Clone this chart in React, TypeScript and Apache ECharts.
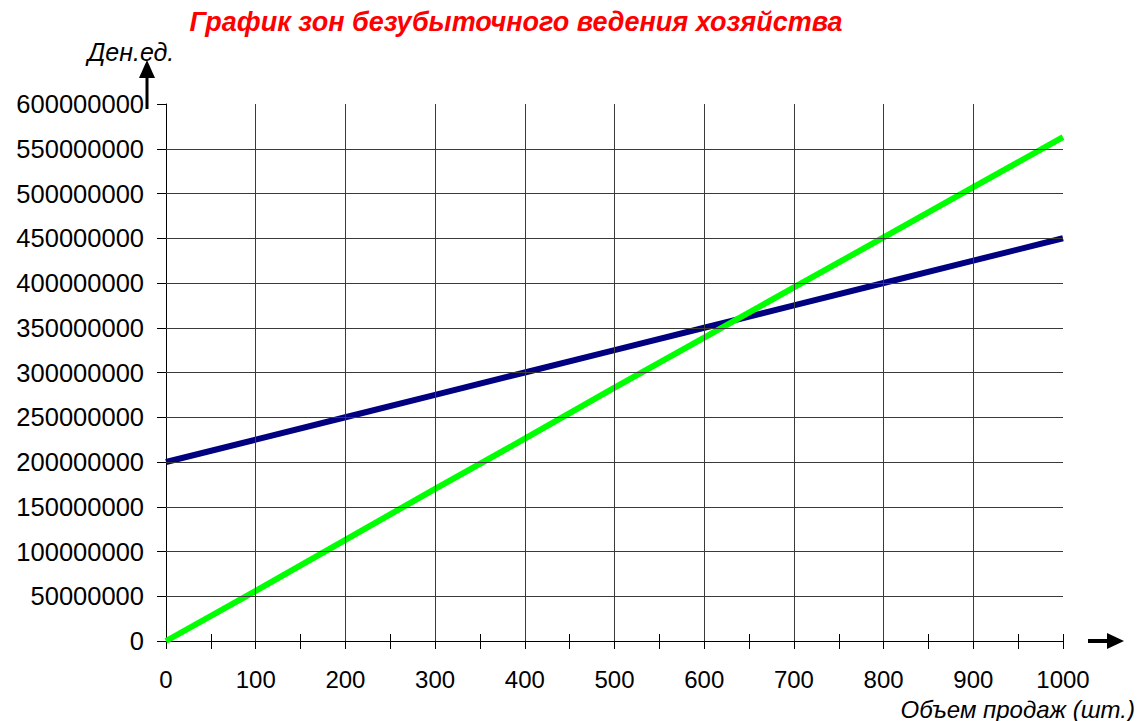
import React, { useEffect, useRef } from "react";
import * as echarts from "echarts";

const volumes = [0, 100, 200, 300, 400, 500, 600, 700, 800, 900, 1000];
const costValues = [200000000, 225000000, 250000000, 275000000, 300000000, 325000000, 350000000, 375000000, 400000000, 425000000, 450000000];
const revenueValues = [0, 56000000, 113000000, 170000000, 226000000, 283000000, 339000000, 395000000, 451000000, 507000000, 563000000];
const hGridValues = [50000000, 100000000, 150000000, 200000000, 250000000, 300000000, 350000000, 400000000, 450000000, 500000000, 550000000];
const vGridValues = [100, 200, 300, 400, 500, 600, 700, 800, 900];

const titleText = "График зон безубыточного ведения хозяйства";
const yName = "Ден.ед.";
const xName = "Объем продаж (шт.)";

export default function App() {
  const ref = useRef<HTMLDivElement>(null);
  useEffect(() => {
    if (!ref.current) return;
    const chart = echarts.init(ref.current, null, { renderer: "svg" });
    const font = "'Liberation Sans', Arial, sans-serif";
    const gridColor = "#3a3a3a";
    chart.setOption({
      animation: false,
      backgroundColor: "#ffffff",
      grid: { left: 166, right: 75, top: 104, bottom: 80, containLabel: false },
      xAxis: [
        {
          type: "value",
          min: 0,
          max: 1000,
          interval: 50,
          axisLine: { show: true, lineStyle: { color: "#000", width: 1 } },
          axisTick: { show: true, length: 8, lineStyle: { color: "#000" } },
          splitLine: { show: false },
          axisLabel: {
            margin: 26,
            fontSize: 24,
            lineHeight: 24,
            fontFamily: font,
            color: "#000",
            formatter: (v: number) => (v % 100 === 0 ? String(v) : ""),
          },
        },
        {
          type: "value",
          position: "bottom",
          min: 0,
          max: 1000,
          interval: 50,
          axisLine: { show: false },
          axisTick: { show: true, inside: true, length: 7, lineStyle: { color: "#000" } },
          axisLabel: { show: false },
          splitLine: { show: false },
        },
      ],
      yAxis: {
        type: "value",
        min: 0,
        max: 600000000,
        interval: 50000000,
        axisLine: { show: true, lineStyle: { color: "#000", width: 1 } },
        axisTick: { show: true, length: 9, lineStyle: { color: "#000" } },
        splitLine: { show: false },
        axisLabel: {
          margin: 22,
          fontSize: 25.5,
          fontFamily: font,
          color: "#000",
          formatter: (v: number) => String(v),
        },
      },
      graphic: [
        {
          type: "text",
          x: 516,
          y: 22,
          style: {
            text: titleText,
            fill: "#ff0000",
            font: "italic bold 27px 'Liberation Sans', Arial, sans-serif",
            textAlign: "center",
            textVerticalAlign: "middle",
          },
        },
        {
          type: "text",
          x: 131,
          y: 52,
          style: {
            text: yName,
            fill: "#000",
            font: "italic 25px 'Liberation Sans', Arial, sans-serif",
            textAlign: "center",
            textVerticalAlign: "middle",
          },
        },
        {
          type: "line",
          shape: { x1: 147, y1: 109, x2: 147, y2: 76 },
          style: { stroke: "#000", lineWidth: 3 },
        },
        {
          type: "polygon",
          shape: { points: [[139, 78], [155, 78], [147, 60]] },
          style: { fill: "#000" },
        },
        {
          type: "line",
          shape: { x1: 1088, y1: 641, x2: 1110, y2: 641 },
          style: { stroke: "#000", lineWidth: 4 },
        },
        {
          type: "polygon",
          shape: { points: [[1107, 633], [1107, 649], [1124, 641]] },
          style: { fill: "#000" },
        },
        {
          type: "text",
          x: 1135,
          y: 709,
          style: {
            text: xName,
            fill: "#000",
            font: "italic 24px 'Liberation Sans', Arial, sans-serif",
            textAlign: "right",
            textVerticalAlign: "middle",
          },
        },
      ],
      series: [
        {
          type: "line",
          data: [],
          silent: true,
          markLine: {
            silent: true,
            symbol: "none",
            label: { show: false },
            lineStyle: { color: gridColor, width: 1, type: "solid" },
            data: [
              ...hGridValues.map((v) => ({ yAxis: v })),
              ...vGridValues.map((v) => ({ xAxis: v })),
            ],
          },
        },
        {
          name: "Costs",
          type: "line",
          data: volumes.map((x, i) => [x, costValues[i]]),
          showSymbol: false,
          symbol: "none",
          lineStyle: { color: "#000080", width: 6 },
          itemStyle: { color: "#000080" },
        },
        {
          name: "Revenue",
          type: "line",
          data: volumes.map((x, i) => [x, revenueValues[i]]),
          showSymbol: false,
          symbol: "none",
          lineStyle: { color: "#00ff00", width: 6 },
          itemStyle: { color: "#00ff00" },
        },
      ],
    });
    return () => chart.dispose();
  }, []);
  return (
    <div
      ref={ref}
      style={{ position: "absolute", left: 0, top: 0, width: 1138, height: 721, background: "#fff" }}
    />
  );
}
